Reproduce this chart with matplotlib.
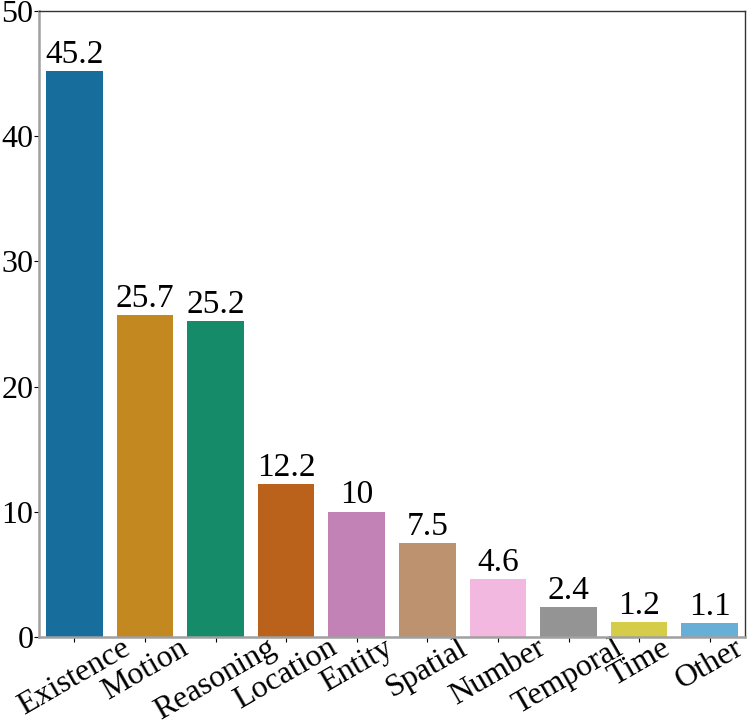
import matplotlib
matplotlib.use('Agg')
import matplotlib.pyplot as plt
import seaborn as sns

categories = ['Existence', 'Motion', 'Reasoning', 'Location', 'Entity',
              'Spatial', 'Number', 'Temporal', 'Time', 'Other']
values = [45.2, 25.7, 25.2, 12.2, 10, 7.5, 4.6, 2.4, 1.2, 1.1]

plt.rcParams['font.family'] = ['Liberation Serif', 'DejaVu Serif']
plt.rcParams['font.size'] = 24

fig = plt.figure(figsize=(7.47, 7.26), dpi=100)
ax = fig.add_axes([39 / 747, 1 - 637 / 726, (745 - 39) / 747, (637 - 11) / 726])

sns.barplot(x=categories, y=values, hue=categories, palette='colorblind',
            legend=False, ax=ax)

for c in ax.containers:
    ax.bar_label(c, fmt='%g', fontsize=24, padding=1)

ax.set_ylim(0, 50)
ax.set_xlim(-0.5, len(categories) - 0.5)
ax.set_yticks([0, 10, 20, 30, 40, 50])
ax.tick_params(axis='y', labelsize=23, pad=0.5)
ax.tick_params(axis='x', labelsize=23, pad=-6)
plt.setp(ax.get_xticklabels(), rotation=30, ha='center')

for side in ['left', 'bottom']:
    ax.spines[side].set_color('#a0a0a0')
    ax.spines[side].set_linewidth(1.8)
for side in ['top', 'right']:
    ax.spines[side].set_color('#333333')
    ax.spines[side].set_linewidth(1.0)

fig.savefig('out.png', dpi=100)
